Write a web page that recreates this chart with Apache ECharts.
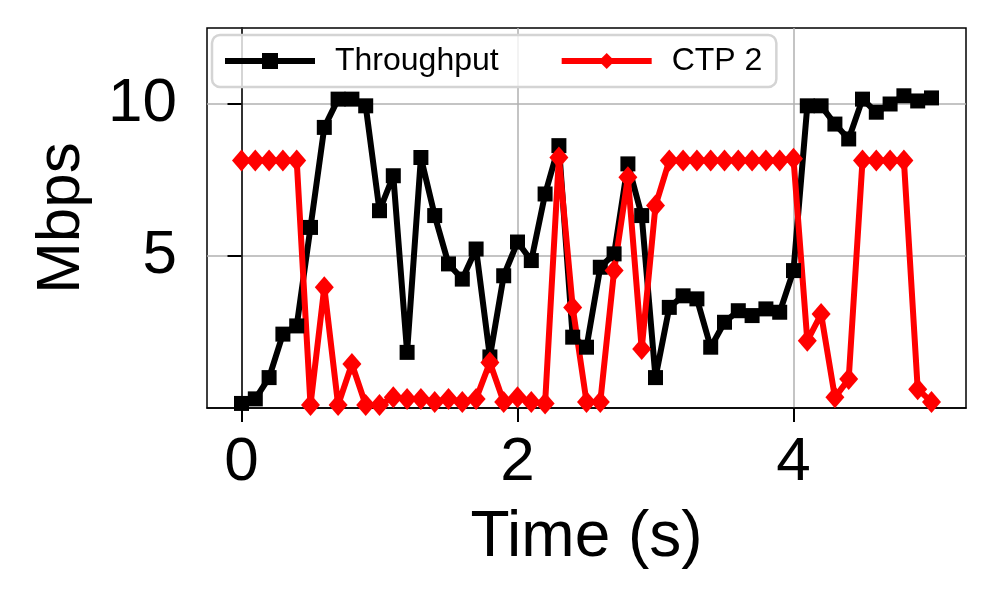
<!DOCTYPE html>
<html>
<head>
<meta charset="utf-8">
<script src="https://cdn.jsdelivr.net/npm/echarts@6/dist/echarts.min.js"></script>
<style>
html,body{margin:0;padding:0;background:#fff;}
#chart{width:996px;height:604px;}
</style>
</head>
<body>
<div id="chart"></div>
<script>
const times = [0.0,0.1,0.2,0.3,0.4,0.5,0.6,0.7,0.8,0.9,1.0,1.1,1.2,1.3,1.4,1.5,1.6,1.7,1.8,1.9,2.0,2.1,2.2,2.3,2.4,2.5,2.6,2.7,2.8,2.9,3.0,3.1,3.2,3.3,3.4,3.5,3.6,3.7,3.8,3.9,4.0,4.1,4.2,4.3,4.4,4.5,4.6,4.7,4.8,4.9,5.0];
const throughput = [0.15,0.3,1.0,2.43,2.7,5.94,9.23,10.16,10.16,9.94,6.49,7.64,1.83,8.24,6.33,4.74,4.24,5.23,1.68,4.35,5.46,4.85,7.04,8.63,2.33,2.0,4.63,5.07,8.03,6.33,1.0,3.31,3.69,3.59,2.0,2.82,3.2,3.04,3.26,3.15,4.52,9.94,9.94,9.34,8.85,10.16,9.73,10.0,10.27,10.1,10.2];
const ctp2 = [8.14,8.14,8.14,8.14,8.14,0.1,3.97,0.1,1.45,0.1,0.1,0.35,0.3,0.3,0.2,0.3,0.2,0.3,1.5,0.2,0.35,0.2,0.15,8.24,3.31,0.2,0.2,4.52,7.59,1.94,6.66,8.14,8.14,8.14,8.14,8.14,8.14,8.14,8.14,8.14,8.2,2.21,3.09,0.35,0.95,8.14,8.14,8.14,8.14,0.62,0.2];
const xTicks = [0, 2, 4];
const yTicks = [5, 10];
const seriesNames = ['Throughput', 'CTP 2'];
const seriesColors = ['#000000', '#ff0000'];

const FONT = 'Liberation Sans';
const chart = echarts.init(document.getElementById('chart'), null, {renderer: 'canvas'});
const pairs = arr => times.map((t, i) => [t, arr[i]]);

chart.setOption({
  animation: false,
  backgroundColor: '#fff',
  color: seriesColors,
  grid: {left: 207, right: 30, top: 28, bottom: 196, show: true, borderColor: '#000', borderWidth: 1.5, backgroundColor: 'transparent'},
  legend: {
    left: 212, top: 35,
    orient: 'horizontal',
    itemWidth: 90, itemHeight: 20, itemGap: 60,
    padding: [10, 14, 10, 10],
    backgroundColor: 'rgba(255,255,255,0.8)',
    borderColor: '#d4d4d4', borderWidth: 2.5, borderRadius: 8,
    lineStyle: {width: 6},
    textStyle: {fontFamily: FONT, fontSize: 32, color: '#000', padding: [0, 0, 0, 15]},
    data: seriesNames
  },
  xAxis: {
    type: 'value', min: -0.25, max: 5.25,
    name: 'Time (s)', nameLocation: 'middle', nameGap: 98,
    nameTextStyle: {fontFamily: FONT, fontSize: 64, color: '#000'},
    axisLine: {show: true, lineStyle: {color: '#000', width: 1.5}},
    axisTick: {show: true, length: 14, lineStyle: {color: '#000', width: 2}, customValues: xTicks},
    axisLabel: {fontFamily: FONT, fontSize: 62, color: '#000', margin: 24, customValues: xTicks},
    splitLine: {show: true, lineStyle: {color: '#b0b0b0', width: 1.5}}
  },
  yAxis: {
    type: 'value', min: 0, max: 12.5,
    name: 'Mbps', nameLocation: 'middle', nameGap: 114, nameRotate: 90,
    nameTextStyle: {fontFamily: FONT, fontSize: 62, color: '#000'},
    axisLine: {show: true, lineStyle: {color: '#000', width: 1.5}},
    axisTick: {show: true, length: 14, lineStyle: {color: '#000', width: 2}, customValues: yTicks},
    axisLabel: {fontFamily: FONT, fontSize: 62, color: '#000', margin: 30, customValues: yTicks},
    splitLine: {show: true, lineStyle: {color: '#b0b0b0', width: 1.5}}
  },
  series: [
    {
      name: seriesNames[0], type: 'line', data: pairs(throughput),
      symbol: 'rect', symbolSize: 15, showAllSymbol: true,
      lineStyle: {color: seriesColors[0], width: 6},
      itemStyle: {color: seriesColors[0], borderWidth: 0},
      emphasis: {disabled: true}
    },
    {
      name: seriesNames[1], type: 'line', data: pairs(ctp2),
      symbol: 'diamond', symbolSize: [19, 22], showAllSymbol: true,
      lineStyle: {color: seriesColors[1], width: 6},
      itemStyle: {color: seriesColors[1], borderWidth: 0},
      emphasis: {disabled: true}
    }
  ]
});
</script>
</body>
</html>
